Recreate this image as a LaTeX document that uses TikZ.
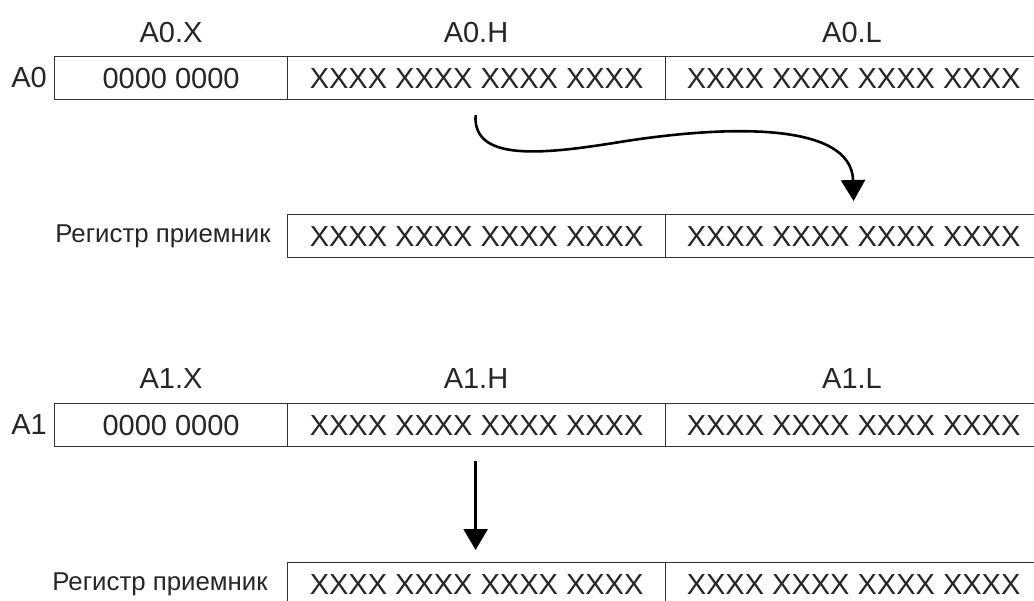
\documentclass[tikz,border=0pt]{standalone}
\usepackage{fontspec}
\setmainfont{Liberation Sans}
\usetikzlibrary{arrows.meta}
\begin{document}
\begin{tikzpicture}[x=1pt,y=-1pt,
  cell/.style={draw=black!80,line width=1.2pt,minimum height=43pt,inner sep=0pt,anchor=north west,
    font=\fontsize{29}{32}\selectfont,text=black!85},
  lbl/.style={inner sep=0pt,font=\fontsize{29}{32}\selectfont,text=black!85},
  rlbl/.style={inner sep=0pt,font=\fontsize{25.8}{30}\selectfont,text=black!85},
  arr/.style={line width=2.6pt,-{Triangle[length=21pt,width=24pt]}}]
\useasboundingbox (0,0) rectangle (1034,601);
\fill[white] (0,0) rectangle (1034,601);
% row A0
\node[cell,minimum width=233pt] (a0x) at (54,56) {0000 0000};
\node[cell,minimum width=378pt] (a0h) at (287,56) {XXXX XXXX XXXX XXXX};
\node[cell,minimum width=376pt] (a0l) at (665,56) {XXXX XXXX XXXX XXXX};
\node[lbl] (a0) at (29,78) {A0};
\node[lbl] (la0x) at (171,33) {A0.X};
\node[lbl] (la0h) at (476,33) {A0.H};
\node[lbl] (la0l) at (852,33) {A0.L};
% receiver 1
\node[cell,minimum width=378pt] (r1h) at (287,214) {XXXX XXXX XXXX XXXX};
\node[cell,minimum width=376pt] (r1l) at (665,214) {XXXX XXXX XXXX XXXX};
\node[rlbl] (r1) at (163,236) {Регистр приемник};
% row A1
\node[cell,minimum width=233pt] (a1x) at (54,403) {0000 0000};
\node[cell,minimum width=378pt] (a1h) at (287,403) {XXXX XXXX XXXX XXXX};
\node[cell,minimum width=376pt] (a1l) at (665,403) {XXXX XXXX XXXX XXXX};
\node[lbl] (a1) at (29,425) {A1};
\node[lbl] (la1x) at (171,379) {A1.X};
\node[lbl] (la1h) at (476,379) {A1.H};
\node[lbl] (la1l) at (852,379) {A1.L};
% receiver 2
\node[cell,minimum width=378pt] (r2h) at (287,562) {XXXX XXXX XXXX XXXX};
\node[cell,minimum width=376pt] (r2l) at (665,562) {XXXX XXXX XXXX XXXX};
\node[rlbl] (r2) at (160,584) {Регистр приемник};
% arrows
\draw[arr] ([shift={(-1,15)}]a0h.south) .. controls +(-3,46) and (540,155) .. (620,142)
  .. controls (720,126) and ([shift={(-2,-94)}]r1l.north) .. ([yshift=13]r1l.north);
\draw[arr] ([shift={(-1,14)}]a1h.south) -- ([shift={(-1,-12)}]r2h.north);
\end{tikzpicture}
\end{document}
